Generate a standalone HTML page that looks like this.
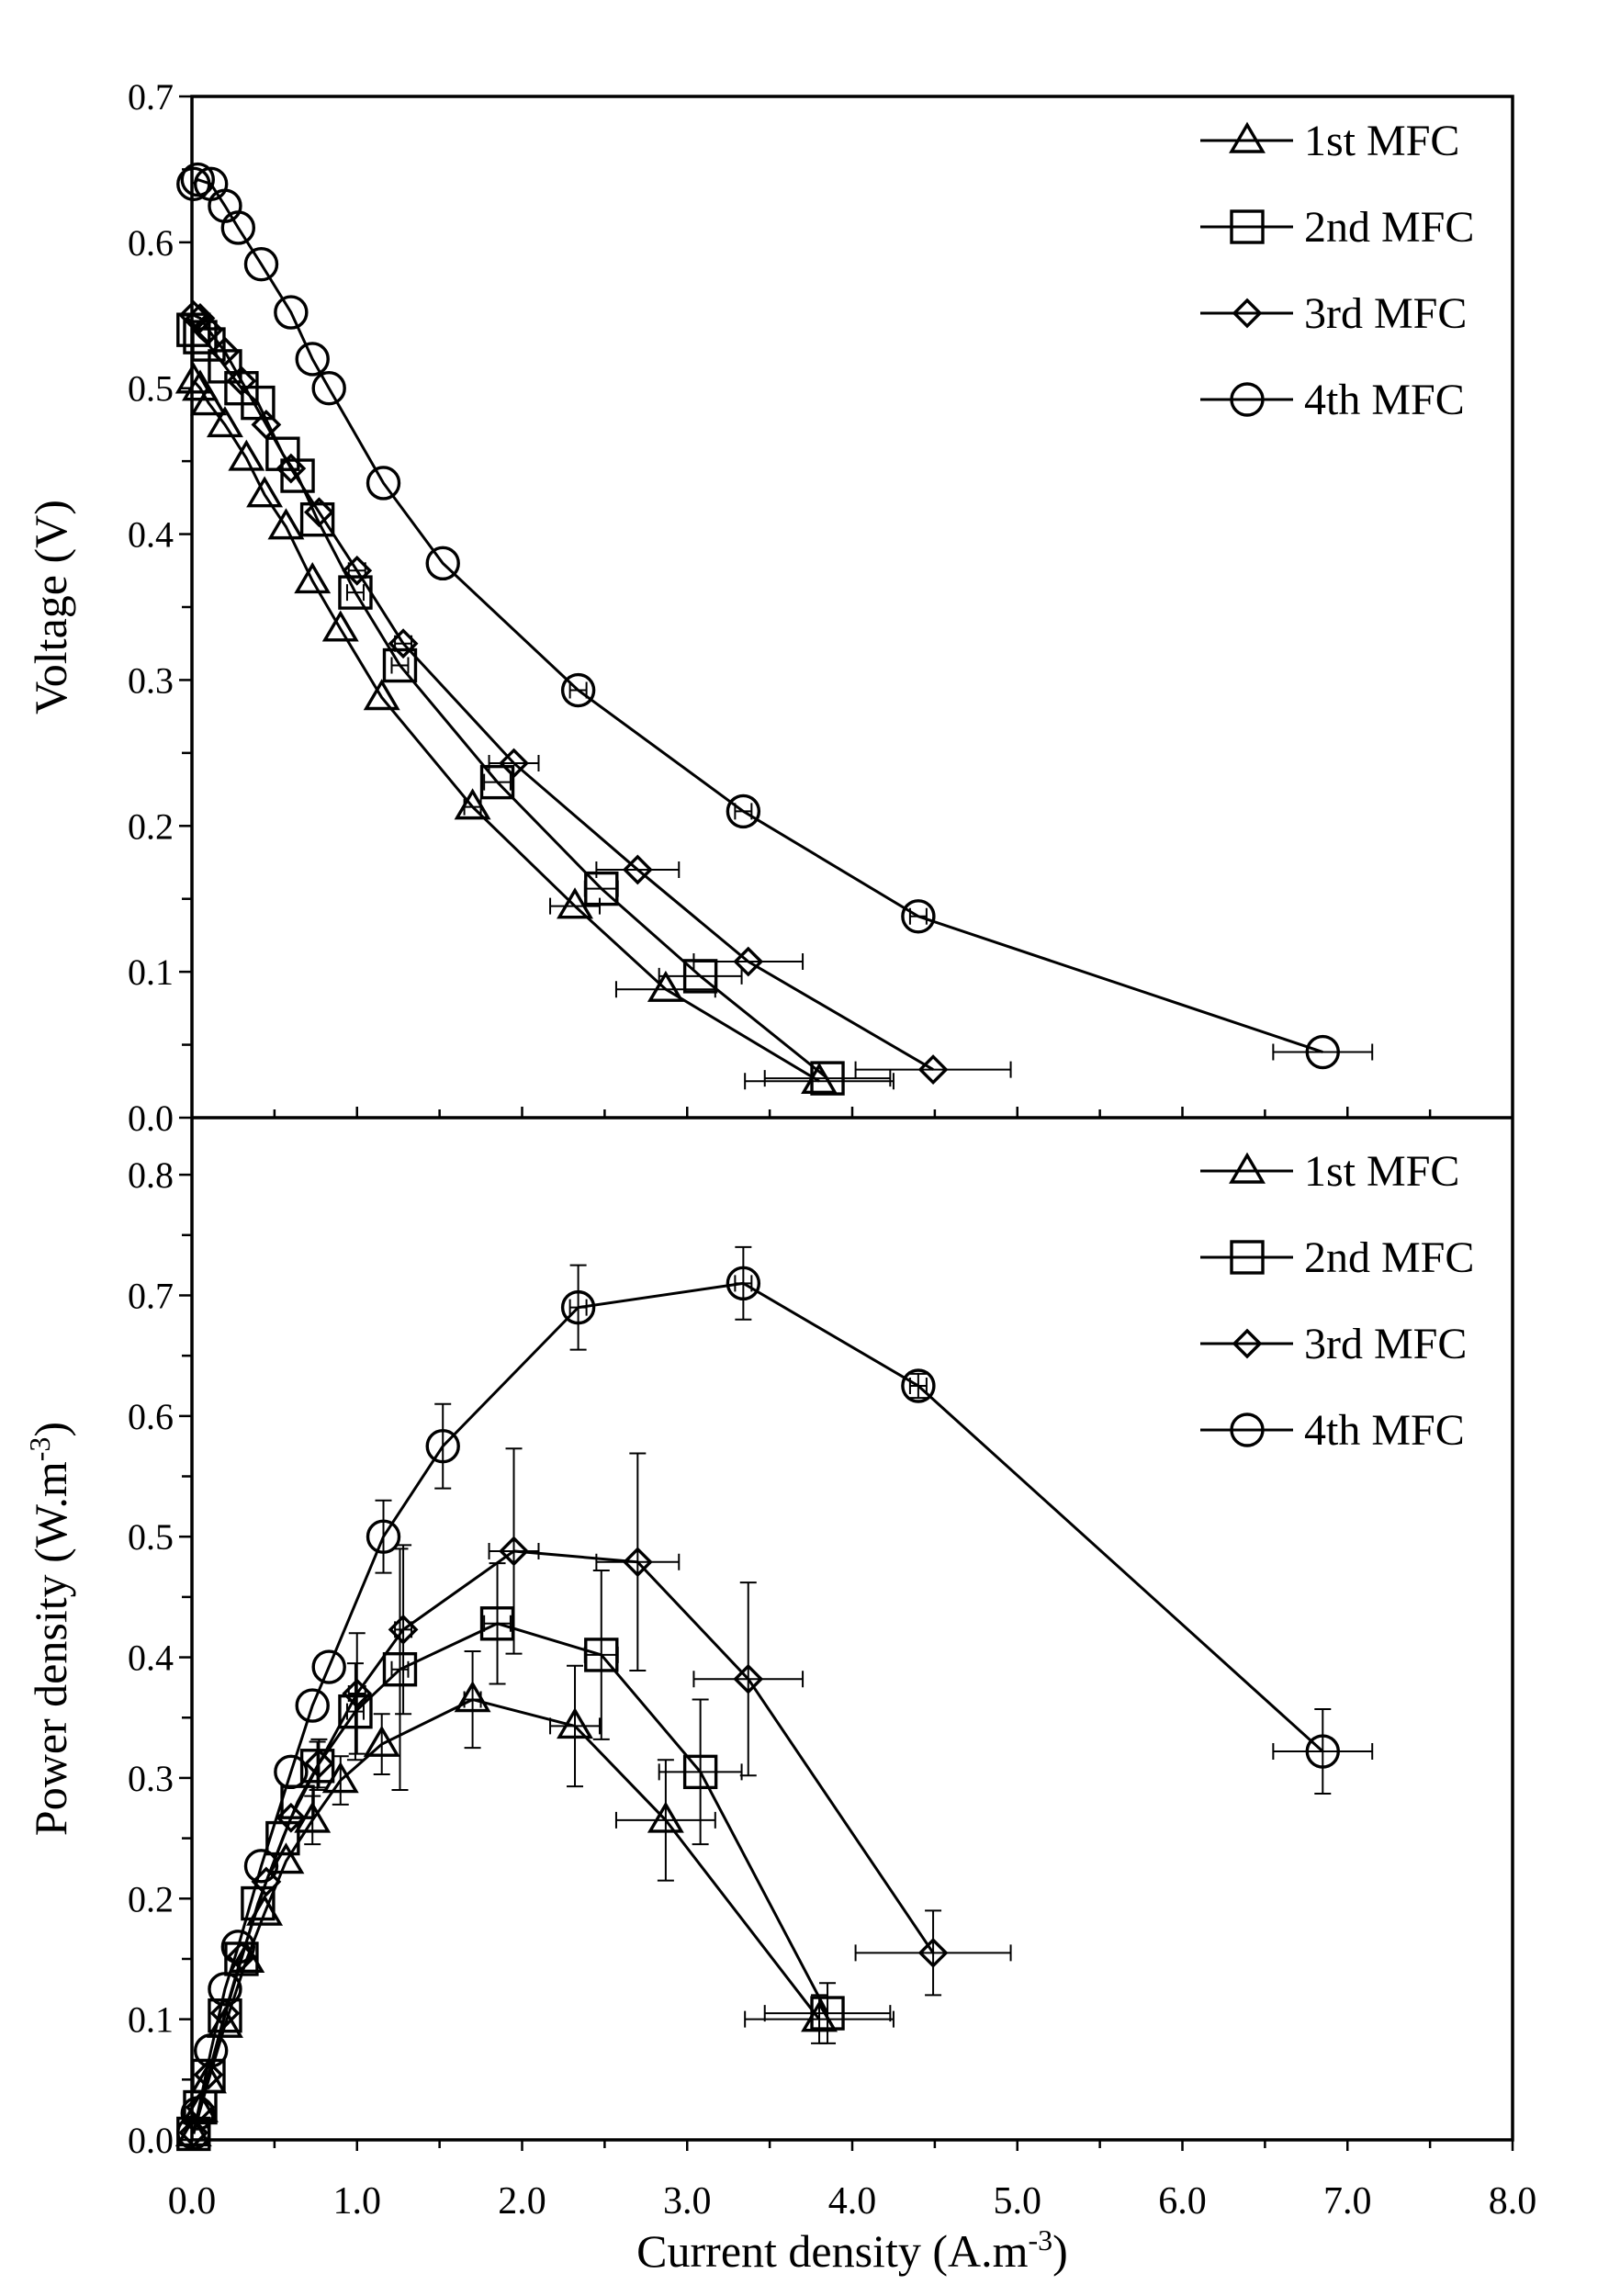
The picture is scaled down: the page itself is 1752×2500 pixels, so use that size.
<!DOCTYPE html>
<html><head><meta charset="utf-8">
<style>
html,body{margin:0;padding:0;background:#fff;}
svg{display:block;font-family:"Liberation Serif",serif;}
</style></head>
<body>
<svg id="chart" width="1752" height="2500" viewBox="0 0 1752 2500" xmlns="http://www.w3.org/2000/svg"></svg>
<script>
// ---- data ----
const seriesNames = ["1st MFC","2nd MFC","3rd MFC","4th MFC"];
const markerTypes = ["triangle","square","diamond","circle"];
const current1 = [0.01,0.05,0.1,0.2,0.33,0.44,0.57,0.73,0.9,1.15,1.7,2.32,2.87,3.8];
const voltage1 = [0.505,0.5,0.49,0.475,0.452,0.427,0.405,0.368,0.335,0.288,0.213,0.145,0.088,0.025];
const power1   = [0.005,0.025,0.049,0.095,0.149,0.188,0.231,0.265,0.298,0.328,0.365,0.343,0.265,0.1];
const xerr1    = [0,0,0,0,0,0,0,0,0,0,0.05,0.15,0.3,0.45];
const perr1    = [0,0,0,0,0,0,0,0.02,0.02,0.025,0.04,0.05,0.05,0.02];
const current2 = [0.01,0.05,0.1,0.2,0.3,0.4,0.55,0.64,0.76,0.99,1.26,1.85,2.48,3.08,3.85];
const voltage2 = [0.54,0.535,0.53,0.515,0.5,0.49,0.455,0.44,0.41,0.36,0.31,0.23,0.157,0.097,0.027];
const power2   = [0.005,0.027,0.053,0.103,0.15,0.196,0.25,0.28,0.31,0.355,0.39,0.428,0.402,0.305,0.105];
const xerr2    = [0,0,0,0,0,0,0,0,0,0.05,0.05,0.08,0.1,0.25,0.38];
const perr2    = [0,0,0,0,0,0,0,0,0.02,0.04,0.1,0.05,0.07,0.06,0.025];
const current3 = [0.01,0.05,0.1,0.2,0.3,0.45,0.6,0.77,1.0,1.28,1.95,2.7,3.37,4.49];
const voltage3 = [0.55,0.548,0.54,0.525,0.505,0.475,0.445,0.415,0.375,0.325,0.243,0.17,0.107,0.033];
const power3   = [0.006,0.027,0.054,0.105,0.152,0.214,0.267,0.312,0.37,0.423,0.488,0.479,0.382,0.155];
const xerr3    = [0,0,0,0,0,0,0,0,0.05,0.05,0.15,0.25,0.33,0.47];
const perr3    = [0,0,0,0,0,0,0,0.02,0.05,0.07,0.085,0.09,0.08,0.035];
const current4 = [0.01,0.035,0.115,0.2,0.28,0.42,0.6,0.73,0.83,1.16,1.52,2.34,3.34,4.4,6.85];
const voltage4 = [0.64,0.643,0.64,0.625,0.61,0.585,0.552,0.52,0.5,0.435,0.38,0.293,0.21,0.138,0.045];
const power4   = [0.006,0.022,0.074,0.125,0.16,0.227,0.305,0.36,0.392,0.5,0.575,0.69,0.71,0.625,0.322];
const xerr4    = [0,0,0,0,0,0,0,0,0,0,0,0.05,0.05,0.05,0.3];
const perr4    = [0,0,0,0,0,0,0,0,0,0.03,0.035,0.035,0.03,0.01,0.035];
const xTickLabels = ["0.0","1.0","2.0","3.0","4.0","5.0","6.0","7.0","8.0"];
const vTickLabels = ["0.0","0.1","0.2","0.3","0.4","0.5","0.6","0.7"];
const pTickLabels = ["0.0","0.1","0.2","0.3","0.4","0.5","0.6","0.7","0.8"];

// ---- layout ----
const L=209, R=1647, T=105, M=1217, B=2330;
const xs = v => L + v*(R-L)/8;
const yV = v => M - v*(M-T)/0.7;
const yP = v => B - v*1313.6;
const NS="http://www.w3.org/2000/svg";
const svg=document.getElementById('chart');
function el(tag, attrs, parent){
  const e=document.createElementNS(NS,tag);
  for(const k in attrs) e.setAttribute(k,attrs[k]);
  (parent||svg).appendChild(e); return e;
}
function txt(s, x, y, size, anchor, parent){
  const t=el('text',{x:x,y:y,'font-size':size,'text-anchor':anchor||'middle',fill:'#000'},parent);
  t.textContent=s; return t;
}
function marker(type, cx, cy, g){
  const a={fill:'none',stroke:'#000','stroke-width':3.4};
  let m;
  if(type==='triangle'){a.points=`${cx},${cy-17} ${cx-17},${cy+12} ${cx+17},${cy+12}`;m=el('polygon',a,g);}
  else if(type==='square'){a.x=cx-17;a.y=cy-17;a.width=34;a.height=34;m=el('rect',a,g);}
  else if(type==='diamond'){a.points=`${cx},${cy-14} ${cx+14},${cy} ${cx},${cy+14} ${cx-14},${cy}`;m=el('polygon',a,g);}
  else {a.cx=cx;a.cy=cy;a.r=17;m=el('circle',a,g);}
  return m;
}

// frames
const frame=el('g',{});


el('rect',{x:L,y:T,width:R-L,height:B-T,fill:'none',stroke:'#000','stroke-width':3.5},frame);
el('line',{x1:L,y1:M,x2:R,y2:M,stroke:'#000','stroke-width':3.5},frame);

// x ticks
const xt=el('g',{});


for(let i=0;i<=16;i++){
  const x=xs(i*0.5), len=(i%2===0)?12:9;
  el('line',{x1:x,y1:B,x2:x,y2:B+len,stroke:'#000','stroke-width':2.5},xt);
  el('line',{x1:x,y1:M,x2:x,y2:M-len,stroke:'#000','stroke-width':2.5},xt);
}
xTickLabels.forEach((s,i)=>{ const t=txt(s,xs(i),B+80,42,'middle',xt);
    });
// V ticks
const vt=el('g',{});


for(let i=0;i<=14;i++){ const y=yV(i*0.05); el('line',{x1:L,y1:y,x2:L-(i%2?11:14),y2:y,stroke:'#000','stroke-width':2.5},vt); }
vTickLabels.forEach((s,i)=>{ const t=txt(s,L-20,yV(i*0.1)+14,40,'end',vt);
    });
const pt=el('g',{});


for(let i=0;i<=16;i++){ const y=yP(i*0.05); el('line',{x1:L,y1:y,x2:L-(i%2?11:14),y2:y,stroke:'#000','stroke-width':2.5},pt); }
pTickLabels.forEach((s,i)=>{ const t=txt(s,L-20,yP(i*0.1)+14,40,'end',pt);
    });

// axis titles
const xtTitle=txt('',(L+R)/2,2468,50,'middle');


xtTitle.innerHTML='Current density (A.m<tspan dy="-18" font-size="32">-3</tspan><tspan dy="18">)</tspan>';
const vTitle=txt('Voltage (V)',0,0,50,'middle');
vTitle.setAttribute('transform',`translate(72,${(T+M)/2}) rotate(-90)`);


const pTitle=txt('',0,0,50,'middle');
pTitle.innerHTML='Power density (W.m<tspan dy="-18" font-size="32">-3</tspan><tspan dy="18">)</tspan>';
pTitle.setAttribute('transform',`translate(72,${(M+B)/2}) rotate(-90)`);



// series
const currents=[current1,current2,current3,current4];
const volts=[voltage1,voltage2,voltage3,voltage4];
const powers=[power1,power2,power3,power4];
const xerrs=[xerr1,xerr2,xerr3,xerr4];
const perrs=[perr1,perr2,perr3,perr4];
function drawSeries(k, yf, vals, yerr, panel){
  const g=el('g',{});
  
  
  const I=currents[k];
  el('polyline',{points:I.map((c,i)=>xs(c)+','+yf(vals[i])).join(' '),fill:'none',stroke:'#000','stroke-width':3},g);
  I.forEach((c,i)=>{
    const x=xs(c), y=yf(vals[i]);
    const xe=xerrs[k][i]*(R-L)/8;
    if(xe>0){ el('path',{d:`M${x-xe},${y}H${x+xe}M${x-xe},${y-9}V${y+9}M${x+xe},${y-9}V${y+9}`,stroke:'#000','stroke-width':2,fill:'none'},g); }
    if(yerr){ const e=yerr[i]; if(e>0){ const y1=yf(vals[i]+e), y2=yf(vals[i]-e);
      el('path',{d:`M${x},${y1}V${y2}M${x-9},${y1}H${x+9}M${x-9},${y2}H${x+9}`,stroke:'#000','stroke-width':2,fill:'none'},g);} }
    const m=marker(markerTypes[k],x,y,g);
    
    
  });
}
for(let k=0;k<4;k++){ drawSeries(k,yV,volts[k],null,'voltage'); drawSeries(k,yP,powers[k],perrs[k],'power'); }

// legends
function legend(y0, panel){
  const g=el('g',{});
  
  
  seriesNames.forEach((s,k)=>{
    const y=y0+k*94;
    const e=el('g',{},g);
    
    
    el('line',{x1:1307,y1:y,x2:1408,y2:y,stroke:'#000','stroke-width':3},e);
    marker(markerTypes[k],1358,y,e);
    txt(s,1420,y+16,48,'start',e);
  });
}
legend(153,'voltage'); legend(1275,'power');
</script>
</body></html>
